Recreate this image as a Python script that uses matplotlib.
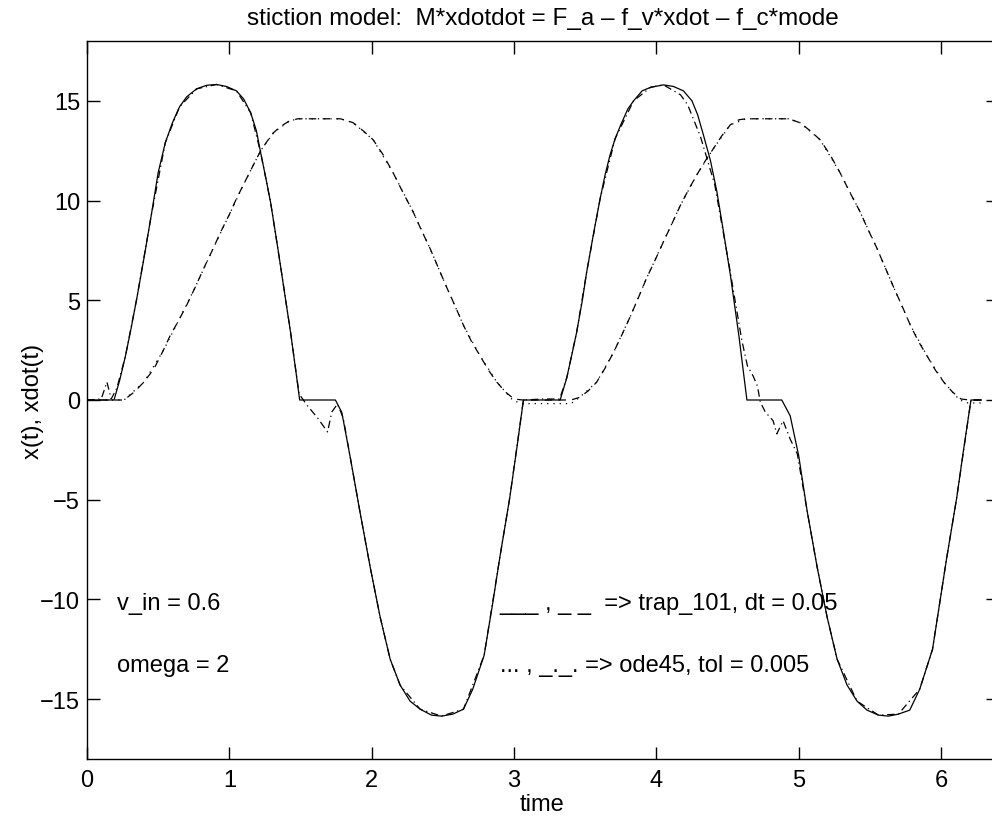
import matplotlib
matplotlib.use("Agg")
import matplotlib.pyplot as plt

plt.rcParams["font.family"] = ["Liberation Sans", "DejaVu Sans"]
plt.rcParams["font.size"] = 17

# trap_101 velocity (solid)
t_v_trap = [0.00, 0.19, 0.23, 0.27, 0.31, 0.35, 0.40, 0.45, 0.50, 0.55, 0.60, 0.65, 0.70,
            0.77, 0.84, 0.91, 0.98, 1.05, 1.10, 1.15, 1.19, 1.22, 1.26, 1.29, 1.33, 1.36,
            1.40, 1.43, 1.47, 1.494, 1.745, 1.79, 1.85, 1.92, 1.99, 2.06, 2.13, 2.20, 2.27,
            2.34, 2.42, 2.49, 2.57, 2.645, 2.71, 2.79, 2.85, 2.90, 2.97, 3.02, 3.066,
            3.324, 3.37, 3.41, 3.44, 3.48, 3.51, 3.56, 3.605, 3.64, 3.675, 3.71, 3.75, 3.80,
            3.84, 3.90, 3.96, 4.05, 4.12, 4.19, 4.25, 4.29, 4.33, 4.38, 4.425, 4.47, 4.52,
            4.58, 4.636, 4.881, 4.94, 5.00, 5.06, 5.13, 5.20, 5.27, 5.34, 5.41, 5.48, 5.56,
            5.63, 5.70, 5.78, 5.85, 5.94, 5.99, 6.04, 6.11, 6.16, 6.21, 6.283]
v_trap = [0.0, 0.0, 1.0, 2.2, 3.6, 5.1, 7.1, 9.2, 11.4, 12.9, 13.9, 14.7, 15.2,
          15.6, 15.78, 15.82, 15.72, 15.5, 15.1, 14.4, 13.5, 12.4, 11.0, 9.9, 8.1, 6.7,
          4.8, 3.4, 1.3, 0.0, 0.0, -0.62, -2.9, -5.7, -8.4, -10.9, -13.0, -14.3, -15.1,
          -15.5, -15.8, -15.85, -15.75, -15.5, -14.5, -12.8, -10.2, -7.9, -4.9, -2.4, 0.0,
          0.0, 1.1, 2.4, 3.4, 5.0, 6.4, 8.4, 10.1, 11.3, 12.3, 13.1, 13.8, 14.6,
          15.0, 15.5, 15.68, 15.8, 15.72, 15.5, 15.0, 14.3, 13.3, 12.0, 10.45, 8.5, 6.26,
          3.2, 0.0, 0.0, -0.79, -2.8, -5.6, -8.4, -10.9, -13.0, -14.3, -15.1, -15.55, -15.8,
          -15.85, -15.75, -15.55, -14.5, -12.5, -10.2, -7.9, -4.9, -2.4, 0.0, 0.0]

# ode45 velocity (dash-dot)
t_v_ode = [0.00, 0.10, 0.14, 0.17, 0.21, 0.27, 0.35, 0.45, 0.55, 0.65, 0.77, 0.91, 1.05,
           1.15, 1.22, 1.29, 1.36, 1.43, 1.49, 1.55, 1.62, 1.69, 1.72, 1.76, 1.80, 1.85,
           1.92, 1.99, 2.06, 2.13, 2.20, 2.34, 2.49, 2.645, 2.79, 2.90, 2.97, 3.066, 3.20,
           3.32, 3.37, 3.44, 3.51, 3.605, 3.71, 3.84, 3.96, 4.05, 4.17, 4.22, 4.31, 4.41,
           4.51, 4.60, 4.64, 4.68, 4.71, 4.73, 4.765, 4.82, 4.846, 4.89, 4.94, 4.99, 5.06,
           5.13, 5.20, 5.27, 5.41, 5.56, 5.70, 5.85, 5.94, 6.04, 6.11, 6.21, 6.283]
v_ode = [0.0, 0.05, 0.9, 0.05, 0.6, 2.2, 5.1, 9.2, 12.9, 14.7, 15.6, 15.82, 15.5,
         14.4, 12.4, 9.9, 6.7, 3.4, 0.3, -0.3, -0.9, -1.6, -0.6, -0.2, -0.9, -2.9,
         -5.7, -8.4, -10.9, -13.0, -14.3, -15.5, -15.85, -15.5, -12.8, -7.9, -4.9, 0.0, 0.05,
         0.05, 1.1, 3.4, 6.4, 10.1, 13.1, 15.0, 15.68, 15.8, 15.3, 14.8, 13.2, 10.8,
         6.8, 3.0, 1.7, 1.2, 0.7, -0.1, -0.6, -1.04, -1.7, -1.04, -1.96, -2.7, -5.6,
         -8.4, -10.9, -13.0, -15.1, -15.8, -15.75, -14.5, -12.5, -7.9, -4.9, 0.0, 0.0]

# trap_101 position (dashed)
t_x_trap = [0.00, 0.26, 0.33, 0.40, 0.47, 0.53, 0.585, 0.645, 0.70, 0.76, 0.82, 0.88, 0.94,
            1.00, 1.05, 1.11, 1.17, 1.22, 1.265, 1.31, 1.36, 1.42, 1.48, 1.78, 1.83, 1.87,
            1.94, 2.01, 2.08, 2.15, 2.22, 2.29, 2.35, 2.41, 2.47, 2.53, 2.59, 2.645, 2.70,
            2.76, 2.82, 2.88, 2.94, 3.00, 3.06, 3.40, 3.46, 3.52, 3.58, 3.64, 3.70, 3.76,
            3.82, 3.875, 3.93, 3.99, 4.05, 4.11, 4.17, 4.23, 4.285, 4.34, 4.40, 4.46, 4.52,
            4.58, 4.63, 4.93, 4.97, 5.01, 5.08, 5.15, 5.22, 5.29, 5.36, 5.43, 5.49, 5.55,
            5.61, 5.67, 5.73, 5.785, 5.84, 5.90, 5.96, 6.02, 6.08, 6.14, 6.20, 6.283]
x_trap = [0.0, 0.0, 0.39, 0.9, 1.56, 2.4, 3.24, 4.0, 4.75, 5.65, 6.6, 7.5, 8.44,
          9.3, 10.1, 10.95, 11.8, 12.5, 12.97, 13.4, 13.72, 13.98, 14.1, 14.1, 14.0, 13.9,
          13.5, 13.05, 12.3, 11.4, 10.4, 9.45, 8.5, 7.6, 6.6, 5.6, 4.65, 3.74, 2.95,
          2.23, 1.5, 0.89, 0.4, 0.05, 0.0, 0.0, 0.13, 0.45, 0.89, 1.6, 2.4, 3.3,
          4.24, 5.15, 6.09, 7.0, 7.94, 8.85, 9.78, 10.6, 11.3, 11.95, 12.6, 13.25, 13.8,
          14.05, 14.1, 14.1, 14.0, 13.9, 13.5, 13.05, 12.3, 11.4, 10.4, 9.45, 8.5, 7.6,
          6.6, 5.6, 4.65, 3.74, 2.95, 2.23, 1.5, 0.89, 0.4, 0.05, 0.0, 0.0]

# ode45 position (dotted)
t_x_ode = [0.00, 0.26, 0.40, 0.53, 0.645, 0.76, 0.88, 1.00, 1.11, 1.22, 1.31, 1.42, 1.48,
           1.78, 1.87, 2.01, 2.15, 2.29, 2.41, 2.53, 2.645, 2.76, 2.88, 2.99, 3.05, 3.40,
           3.46, 3.58, 3.70, 3.82, 3.93, 4.05, 4.17, 4.285, 4.40, 4.52, 4.63, 4.93, 5.01,
           5.15, 5.29, 5.43, 5.55, 5.67, 5.785, 5.90, 6.02, 6.13, 6.19, 6.283]
x_ode = [0.0, 0.0, 0.9, 2.4, 4.0, 5.65, 7.5, 9.3, 10.95, 12.5, 13.4, 13.98, 14.1,
         14.1, 13.9, 13.05, 11.4, 9.45, 7.6, 5.6, 3.74, 2.23, 0.89, 0.0, -0.18, -0.18,
         0.13, 0.89, 2.4, 4.24, 6.09, 7.94, 9.78, 11.3, 12.6, 13.8, 14.1, 14.1, 13.9,
         13.05, 11.4, 9.45, 7.6, 5.6, 3.74, 2.23, 0.89, 0.0, -0.15, -0.15]

title = "stiction model:  M*xdotdot = F_a \u2013 f_v*xdot \u2013 f_c*mode"
notes_left = ["v_in = 0.6", "omega = 2"]
notes_right = ["___ , _ _  => trap_101, dt = 0.05", "... , _._. => ode45, tol = 0.005"]
notes_y = [-10.2, -13.3]

fig = plt.figure(figsize=(9.92, 8.2), dpi=100)
ax = fig.add_axes([87 / 992, 60 / 820, 911 / 992, 718 / 820])

ax.plot(t_v_trap, v_trap, "-", color="k", lw=0.9)
ax.plot(t_x_trap, x_trap, color="k", lw=0.9, dashes=(6, 5))
ax.plot(t_x_ode, x_ode, color="k", lw=0.9, dashes=(1, 4))
ax.plot(t_v_ode, v_ode, color="k", lw=0.9, dashes=(6, 3, 1, 3))

ax.set_xlim(0, 6.4)
ax.set_ylim(-18, 18)
ax.set_xticks(range(0, 7))
ax.set_yticks([-15, -10, -5, 0, 5, 10, 15])
ax.set_yticklabels(["\u221215", "\u221210", "\u22125", "0", "5", "10", "15"])
ax.tick_params(direction="in", length=9, width=1, top=True, right=True)
ax.tick_params(axis="x", pad=7)
ax.tick_params(axis="y", pad=5)
for s in ax.spines.values():
    s.set_linewidth(1)

ax.set_title(title, fontsize=17.5, pad=12)
ax.set_xlabel("time", labelpad=2)
ax.set_ylabel("x(t), xdot(t)", labelpad=-3)

for note, y in zip(notes_left, notes_y):
    ax.text(0.21, y, note, va="center", ha="left")
for note, y in zip(notes_right, notes_y):
    ax.text(2.9, y, note, va="center", ha="left")

plt.savefig("out.png", dpi=100)
